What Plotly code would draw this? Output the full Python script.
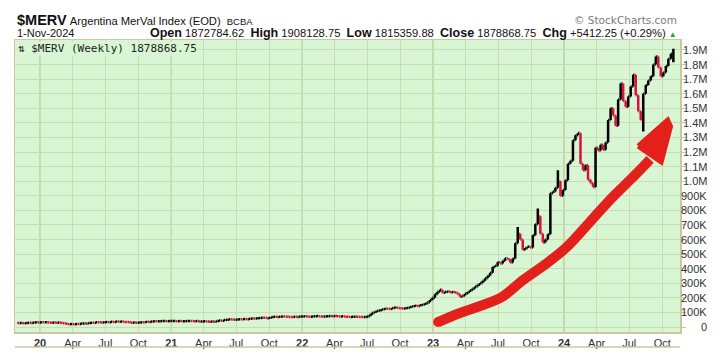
import plotly.graph_objects as go
import pandas as pd

# ---------------- data (weekly closes, in thousands) ----------------
first_week = "2019-11-01"
first_open_k = 27.5
closes_k = [
    # Nov-Dec 2019
    27, 28, 26, 27, 29, 28, 31, 32, 31,
    # 2020
    33, 32, 33, 31, 30,   31, 30, 30.5, 28,   26, 22, 19, 20,   19, 21, 20, 24,
    25, 24, 28, 30, 29,   33, 32, 31, 33,   34, 33, 36, 35, 38,   37, 38, 35, 34,
    32, 30, 31, 30,   31, 33, 32, 36, 35,   38, 40, 39, 40,   41, 42, 40, 41,
    # 2021
    41, 42, 40, 41, 39,   40, 41, 42, 41,   40, 41, 38, 38.5,   39, 38, 37, 38, 37,
    42, 44, 43, 48,   50, 53, 52, 50,   52, 54, 53, 55, 54,   57, 59, 58, 60,
    62, 64, 63, 61,   64, 68, 71, 69, 70,   73, 72, 70, 69,   68, 70, 69, 72, 73,
    # 2022
    74, 72, 71, 73,   74, 75, 73, 72,   73, 74, 75, 74,   75, 74, 73, 74, 71,
    70, 69, 70, 71,   70, 69, 68, 69,   72, 85, 98, 105, 112,   115, 122, 126, 125,
    124, 130, 134, 131, 128,   127, 129, 132, 138,   142, 146, 144, 150,
    155, 160, 170, 185, 200,
    # 2023
    225, 242, 256, 235,   240, 243, 238, 241,   236, 224, 208, 216, 228,
    240, 252, 265, 278,   290, 302, 318, 335,   352, 372, 412, 420, 445,
    436, 455, 472, 465,   443, 470, 575, 640,   600, 530, 542, 552, 545,
    630, 705, 760, 640,   580, 600, 636, 917,   930, 955, 1000, 900, 940,
    # 2024
    1007, 1120, 1140, 1280,   1315, 1330, 1120, 1075,   1110, 1010, 985, 960, 1230,
    1210, 1250, 1215, 1265,   1420, 1500, 1450, 1380, 1560,   1670, 1550, 1510, 1580,
    1650, 1730, 1590, 1480,   1420, 1600, 1660, 1690, 1720,   1800, 1855, 1780, 1720,
    1745, 1790, 1840, 1873.4565,   1878.86875,
]
high_override_dates = ["2023-08-25", "2023-10-20", "2023-12-15", "2024-11-01"]
high_override_k = [686, 813, 1075, 1908.12875]
low_override_dates = ["2024-08-09", "2024-11-01"]
low_override_k = [1340, 1815.35988]

y_tick_vals = [0, 100000, 200000, 300000, 400000, 500000, 600000, 700000, 800000,
               900000, 1000000, 1100000, 1200000, 1300000, 1400000, 1500000,
               1600000, 1700000, 1800000, 1900000]
y_tick_text = ["0", "100K", "200K", "300K", "400K", "500K", "600K", "700K", "800K",
               "900K", "1.0M", "1.1M", "1.2M", "1.3M", "1.4M", "1.5M", "1.6M",
               "1.7M", "1.8M", "1.9M"]
x_tick_dates = ["2020-01-01", "2020-04-01", "2020-07-01", "2020-10-01",
                "2021-01-01", "2021-04-01", "2021-07-01", "2021-10-01",
                "2022-01-01", "2022-04-01", "2022-07-01", "2022-10-01",
                "2023-01-01", "2023-04-01", "2023-07-01", "2023-10-01",
                "2024-01-01", "2024-04-01", "2024-07-01", "2024-10-01"]
x_tick_text = ["<b>20</b>", "Apr", "Jul", "Oct", "<b>21</b>", "Apr", "Jul", "Oct",
               "<b>22</b>", "Apr", "Jul", "Oct", "<b>23</b>", "Apr", "Jul", "Oct",
               "<b>24</b>", "Apr", "Jul", "Oct"]
year_lines = ["2020-01-01", "2021-01-01", "2022-01-01", "2023-01-01", "2024-01-01"]

# hand-drawn red arrow (annotation)
arrow_dates = ["2023-01-15", "2023-03-17", "2023-05-12", "2023-07-12", "2023-09-09",
               "2023-11-15", "2024-01-09", "2024-03-13", "2024-05-08", "2024-06-19",
               "2024-07-31", "2024-08-28"]
arrow_k = [34, 96, 144, 206, 322, 439, 549, 720, 871, 974, 1077, 1150]
head_dates = ["2024-07-26", "2024-10-16", "2024-10-24", "2024-09-28", "2024-07-26"]
head_k = [1240, 1418, 1375, 1132, 1240]

# ---------------- build OHLC ----------------
dates = pd.date_range(first_week, periods=len(closes_k), freq="7D")
close = [c * 1000 for c in closes_k]
opens = [first_open_k * 1000] + close[:-1]
high = [max(o, c) for o, c in zip(opens, close)]
low = [min(o, c) for o, c in zip(opens, close)]
idx = {d.strftime("%Y-%m-%d"): i for i, d in enumerate(dates)}
for d, v in zip(high_override_dates, high_override_k):
    high[idx[d]] = max(high[idx[d]], v * 1000)
for d, v in zip(low_override_dates, low_override_k):
    low[idx[d]] = min(low[idx[d]], v * 1000)

BG = "#d9f6d4"
GRID = "#c6deb0"
YEARGRID = "#b6cc96"
BORDER = "#c9c8a0"
BAR_RED = "#d9123c"
ARROW_RED = "#e3201c"

fig = go.Figure()
fig.add_trace(go.Ohlc(
    x=dates, open=opens, high=high, low=low, close=close,
    increasing=dict(line=dict(color="#000000", width=2.5)),
    decreasing=dict(line=dict(color=BAR_RED, width=2.5)),
    tickwidth=0.4, hoverinfo="skip", showlegend=False))

fig.add_trace(go.Scatter(
    x=arrow_dates, y=[v * 1000 for v in arrow_k], mode="lines",
    line=dict(color=ARROW_RED, width=10, shape="spline"),
    hoverinfo="skip", showlegend=False))
fig.add_trace(go.Scatter(
    x=arrow_dates[:1], y=[arrow_k[0] * 1000], mode="markers",
    marker=dict(color=ARROW_RED, size=10), hoverinfo="skip", showlegend=False))
fig.add_trace(go.Scatter(
    x=head_dates, y=[v * 1000 for v in head_k], mode="lines", fill="toself",
    fillcolor=ARROW_RED, line=dict(color=ARROW_RED, width=5),
    hoverinfo="skip", showlegend=False))

W, H = 724, 360
L, R, T, B = 15, 44, 40, 28
PW, PH = W - L - R, H - T - B


def px(x):
    return (x - L) / PW


def py(y):
    return (H - B - y) / PH


shapes = []
for d in year_lines:
    shapes.append(dict(type="line", xref="x", yref="paper", x0=d, x1=d, y0=0, y1=1,
                       line=dict(color=YEARGRID, width=1.5), layer="below"))
shapes.append(dict(type="line", xref="paper", yref="paper", x0=0, x1=1,
                   y0=py(347), y1=py(347), line=dict(color=BORDER, width=1.5)))

annotations = []
for v, t in zip(y_tick_vals, y_tick_text):
    annotations.append(dict(xref="paper", yref="y", x=px(709), y=v, text=t,
                            showarrow=False, xanchor="right", yanchor="middle",
                            font=dict(family="Liberation Sans, Arial", size=11, color="#333333")))

annotations.append(dict(
    xref="paper", yref="paper", x=px(15), y=py(20.5), xanchor="left", yanchor="middle",
    showarrow=False,
    text='<span style="font-size:14.5px"><b>$MERV</b></span> '
         '<span style="font-size:11.2px">Argentina MerVal Index (EOD)</span>\u00a0 '
         '<span style="font-size:9.5px">BCBA</span>',
    font=dict(family="Liberation Sans, Arial", size=11, color="#111111")))
annotations.append(dict(
    xref="paper", yref="paper", x=px(679), y=py(20), xanchor="right", yanchor="middle",
    showarrow=False, text="\u00a9 StockCharts.com",
    font=dict(family="DejaVu Sans, Verdana", size=10.5, color="#7a7a7a")))
annotations.append(dict(
    xref="paper", yref="paper", x=px(15), y=py(33.5), xanchor="left", yanchor="middle",
    showarrow=False, text="1-Nov-2024",
    font=dict(family="Liberation Sans, Arial", size=11, color="#111111")))
S = '<span style="font-size:12.5px"><b>%s</b></span>'
annotations.append(dict(
    xref="paper", yref="paper", x=px(679), y=py(33.5), xanchor="right", yanchor="middle",
    showarrow=False,
    text=(S % "Open") + " 1872784.62\u00a0 " + (S % "High") + " 1908128.75\u00a0 "
         + (S % "Low") + " 1815359.88\u00a0 " + (S % "Close") + " 1878868.75\u00a0 "
         + (S % "Chg") + ' +5412.25 (+0.29%) <span style="color:#2f9e3a;font-size:8px">\u25b2</span>',
    font=dict(family="Liberation Sans, Arial", size=11.2, color="#111111")))
annotations.append(dict(
    xref="paper", yref="paper", x=px(17), y=py(48.5), xanchor="left", yanchor="middle",
    showarrow=False, text="\u21c5 $MERV (Weekly) 1878868.75", bgcolor=BG, borderpad=0,
    font=dict(family="DejaVu Sans Mono, monospace", size=11, color="#222222")))

fig.update_layout(
    width=W, height=H,
    margin=dict(l=L, r=R, t=T, b=B, pad=0),
    paper_bgcolor="white", plot_bgcolor=BG,
    showlegend=False, hovermode=False,
    shapes=shapes, annotations=annotations,
    xaxis=dict(
        type="date", range=["2019-10-23", "2024-11-19 12:00"],
        rangeslider=dict(visible=False),
        tickmode="array", tickvals=x_tick_dates, ticktext=x_tick_text,
        showgrid=True, gridcolor=GRID, gridwidth=1,
        showline=True, mirror=True, linecolor=BORDER, linewidth=1.5,
        ticks="", tickfont=dict(family="Liberation Sans, Arial", size=11, color="#333333"),
        zeroline=False, fixedrange=True),
    yaxis=dict(
        side="right", range=[-34000, 1968000],
        tickmode="array", tickvals=y_tick_vals, ticktext=y_tick_text,
        showticklabels=False, ticks="outside", ticklen=4, tickcolor=BORDER,
        showgrid=True, gridcolor=GRID, gridwidth=1,
        showline=True, mirror=True, linecolor=BORDER, linewidth=1.5,
        zeroline=False, fixedrange=True),
)

fig.write_html(
    "out.html",
    config={"displayModeBar": False, "staticPlot": True},
    post_script="document.body.style.margin='0px';document.body.style.overflow='hidden';",
)
